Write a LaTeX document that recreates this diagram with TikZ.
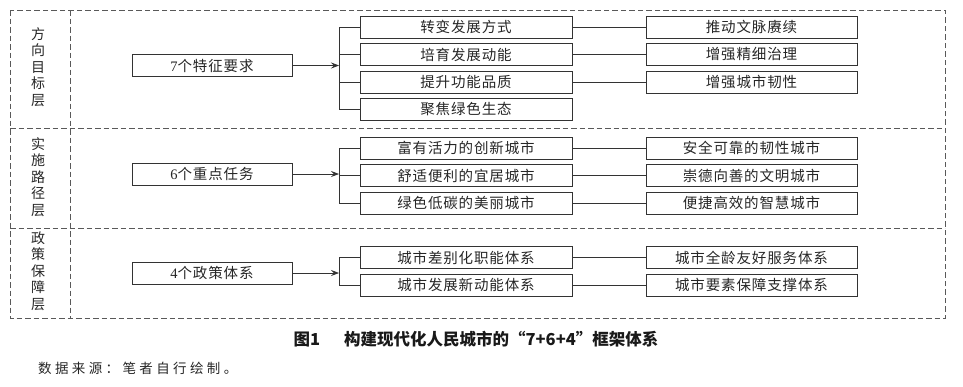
\documentclass[tikz,border=0pt]{standalone}
\usepackage{fontspec}
\setmainfont{Liberation Serif}
\newfontfamily\cjk{Noto Sans CJK SC}
\usetikzlibrary{arrows.meta}
\tikzset{
  box/.style={draw=black!80, line width=0.7pt, minimum height=22pt, inner sep=0pt,
    font=\cjk\fontsize{14.5}{16}\selectfont\addfontfeature{LetterSpace=6}, text=black!85},
  lbox/.style={box, minimum width=160pt},
  mbox/.style={box, minimum width=212pt},
  rbox/.style={box, minimum width=211pt},
  framed/.style={draw=black!65, dash pattern=on 5.5pt off 3pt, line width=0.8pt},
  link/.style={draw=black!80, line width=0.7pt},
  arr/.style={link, -{Stealth[length=8pt,width=6pt,inset=3pt]}},
  lab/.style={align=center, inner sep=0pt, font=\cjk\fontsize{14}{16.5}\selectfont, text=black!85},
}
\newcommand{\dg}[1]{{\rmfamily #1}}
\begin{document}
\begin{tikzpicture}[x=1pt,y=-1pt]
\useasboundingbox (0,0) rectangle (963,386);
% frame
\draw[framed] (10,10) rectangle (945,318);
\draw[framed] (70,10) -- (70,318);
\draw[framed] (10,128) -- (945,128);
\draw[framed] (10,228) -- (945,228);
% labels
\node[lab] (L1) at (38,67) {方\\向\\目\\标\\层};
\node[lab] (L2) at (38,177) {实\\施\\路\\径\\层};
\node[lab] (L3) at (38,271) {政\\策\\保\\障\\层};
% row 1
\node[lbox] (A1) at (212,65.5) {\dg{7}个特征要求};
\coordinate (b1) at (339,65.5);
\node[mbox] (m11) at (466,27) {转变发展方式};
\node[mbox] (m12) at (466,54.5) {培育发展动能};
\node[mbox] (m13) at (466,82) {提升功能品质};
\node[mbox] (m14) at (466,109.5) {聚焦绿色生态};
\node[rbox] (r11) at (751.5,27) {推动文脉赓续};
\node[rbox] (r12) at (751.5,54.5) {增强精细治理};
\node[rbox] (r13) at (751.5,82) {增强城市韧性};
\draw[arr] (A1.east) -- (b1);
\foreach \n in {m11,m12,m13,m14} \draw[link] (b1) |- (\n.west);
\foreach \a/\b in {m11/r11,m12/r12,m13/r13} \draw[link] (\a.east) -- (\b.west);
% row 2
\node[lbox] (A2) at (212,174) {\dg{6}个重点任务};
\coordinate (b2) at (339,174);
\node[mbox] (m21) at (466,148) {富有活力的创新城市};
\node[mbox] (m22) at (466,175.5) {舒适便利的宜居城市};
\node[mbox] (m23) at (466,203) {绿色低碳的美丽城市};
\node[rbox] (r21) at (751.5,148) {安全可靠的韧性城市};
\node[rbox] (r22) at (751.5,175.5) {崇德向善的文明城市};
\node[rbox] (r23) at (751.5,203) {便捷高效的智慧城市};
\draw[arr] (A2.east) -- (b2);
\foreach \n in {m21,m22,m23} \draw[link] (b2) |- (\n.west);
\foreach \a/\b in {m21/r21,m22/r22,m23/r23} \draw[link] (\a.east) -- (\b.west);
% row 3
\node[lbox] (A3) at (212,273) {\dg{4}个政策体系};
\coordinate (b3) at (339,273);
\node[mbox] (m31) at (466,257.5) {城市差别化职能体系};
\node[mbox] (m32) at (466,285) {城市发展新动能体系};
\node[rbox] (r31) at (751.5,257.5) {城市全龄友好服务体系};
\node[rbox] (r32) at (751.5,285) {城市要素保障支撑体系};
\draw[arr] (A3.east) -- (b3);
\foreach \n in {m31,m32} \draw[link] (b3) |- (\n.west);
\foreach \a/\b in {m31/r31,m32/r32} \draw[link] (\a.east) -- (\b.west);
% caption
\node[font=\cjk\bfseries\fontsize{16.5}{18}\selectfont, text=black!90, inner sep=0pt] (cap) at (476,339)
  {图1\hspace{24pt}构建现代化人民城市的“7+6+4”框架体系};
\node[anchor=west, font=\cjk\fontsize{13.5}{16}\selectfont, text=black!85, inner sep=0pt] (src) at (38,368)
  {\addfontfeature{LetterSpace=25}数据来源：笔者自行绘制。};
\end{tikzpicture}
\end{document}
